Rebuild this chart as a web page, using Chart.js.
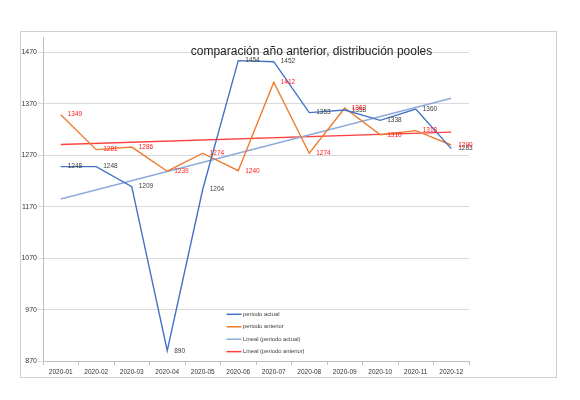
<!DOCTYPE html>
<html>
<head>
<meta charset="utf-8">
<script src="https://cdn.jsdelivr.net/npm/chart.js@4"></script>
<style>
html,body{margin:0;padding:0;background:#fff;}
#wrap{width:580px;height:400px;position:relative;}
</style>
</head>
<body>
<div id="wrap"><canvas id="c" width="580" height="400"></canvas></div>
<script>
const categories = ['2020-01','2020-02','2020-03','2020-04','2020-05','2020-06','2020-07','2020-08','2020-09','2020-10','2020-11','2020-12'];
const periodoActual = [1248,1248,1209,890,1204,1454,1452,1353,1358,1338,1360,1283];
const periodoAnterior = [1349,1281,1286,1239,1274,1240,1412,1274,1362,1310,1318,1290];
const linealActual = [1185,null,null,null,null,null,null,null,null,null,null,1381];
const linealAnterior = [1291,null,null,null,null,null,null,null,null,null,null,1315];
const yTicks = [870,970,1070,1170,1270,1370,1470];
const titleText = 'comparación año anterior, distribución pooles';

const FONT = '"Liberation Sans", Arial, sans-serif';

const framePlugin = {
  id:'frame',
  beforeDraw(chart){
    const ctx = chart.ctx;
    ctx.save();
    ctx.fillStyle = '#fff';
    ctx.fillRect(0,0,chart.width,chart.height);
    ctx.strokeStyle = '#d0d0d0';
    ctx.lineWidth = 1;
    ctx.strokeRect(20.5,31.5,536,346);
    ctx.restore();
  }
};

const labelPlugin = {
  id:'valueLabels',
  afterDatasetsDraw(chart){
    const ctx = chart.ctx;
    ctx.save();
    ctx.font = '6.5px ' + FONT;
    ctx.textBaseline = 'middle';
    ctx.textAlign = 'left';
    const colors = ['#404040','#ff1a1a'];
    [0,1].forEach(di=>{
      const meta = chart.getDatasetMeta(di);
      const data = chart.data.datasets[di].data;
      ctx.fillStyle = colors[di];
      meta.data.forEach((pt,i)=>{
        ctx.fillText(String(data[i]), pt.x + 7, pt.y);
      });
    });
    ctx.restore();
  },
  afterDraw(chart){
    const ctx = chart.ctx;
    const ca = chart.chartArea;
    ctx.save();
    // title
    ctx.font = '12px ' + FONT;
    ctx.fillStyle = '#222';
    ctx.textAlign = 'center';
    ctx.textBaseline = 'alphabetic';
    ctx.fillText(titleText, ca.left + 268.5, ca.top + 17.5);
    // legend
    ctx.font = '5.8px ' + FONT;
    ctx.textAlign = 'left';
    ctx.textBaseline = 'middle';
    chart.data.datasets.forEach((ds,i)=>{
      const y = ca.top + 277.3 + i*12.45;
      const x = ca.left + 183.5;
      ctx.strokeStyle = ds.borderColor;
      ctx.lineWidth = 1.5;
      ctx.beginPath();
      ctx.moveTo(x, y);
      ctx.lineTo(x + 15, y);
      ctx.stroke();
      ctx.fillStyle = '#404040';
      ctx.fillText(ds.label, x + 16.5, y);
    });
    ctx.restore();
  }
};

new Chart(document.getElementById('c'), {
  type:'line',
  data:{
    labels:categories,
    datasets:[
      {label:'periodo actual', data:periodoActual, borderColor:'#4472c4', borderWidth:1.4, pointRadius:0, tension:0},
      {label:'periodo anterior', data:periodoAnterior, borderColor:'#ed7d31', borderWidth:1.4, pointRadius:0, tension:0},
      {label:'Lineal (periodo actual)', data:linealActual, borderColor:'#8eaadb', borderWidth:1.4, pointRadius:0, spanGaps:true},
      {label:'Lineal (periodo anterior)', data:linealAnterior, borderColor:'#ff4040', borderWidth:1.4, pointRadius:0, spanGaps:true}
    ]
  },
  options:{
    responsive:false,
    animation:false,
    devicePixelRatio:1,
    layout:{padding:{left:20,right:111,top:37,bottom:22}},
    plugins:{legend:{display:false},title:{display:false},tooltip:{enabled:false}},
    scales:{
      x:{
        type:'category',
        offset:true,
        grid:{display:true, drawOnChartArea:false, drawTicks:true, tickLength:4, offset:true, color:'#bfbfbf'},
        border:{display:true, color:'#bfbfbf', width:1},
        ticks:{font:{family:FONT, size:6.5}, color:'#333', padding:3, maxRotation:0, autoSkip:false},
        afterFit(s){ s.height = 17; }
      },
      y:{
        min:870, max:1500,
        afterBuildTicks(s){ s.ticks = yTicks.map(v=>({value:v})); },
        grid:{color:'#d9d9d9', lineWidth:1, drawTicks:true, tickLength:5},
        border:{display:true, color:'#bfbfbf', width:1},
        ticks:{font:{family:FONT, size:7}, color:'#333', padding:1, callback:(v)=>String(v)},
        afterFit(s){ s.width = 23; }
      }
    }
  },
  plugins:[framePlugin, labelPlugin]
});
</script>
</body>
</html>
